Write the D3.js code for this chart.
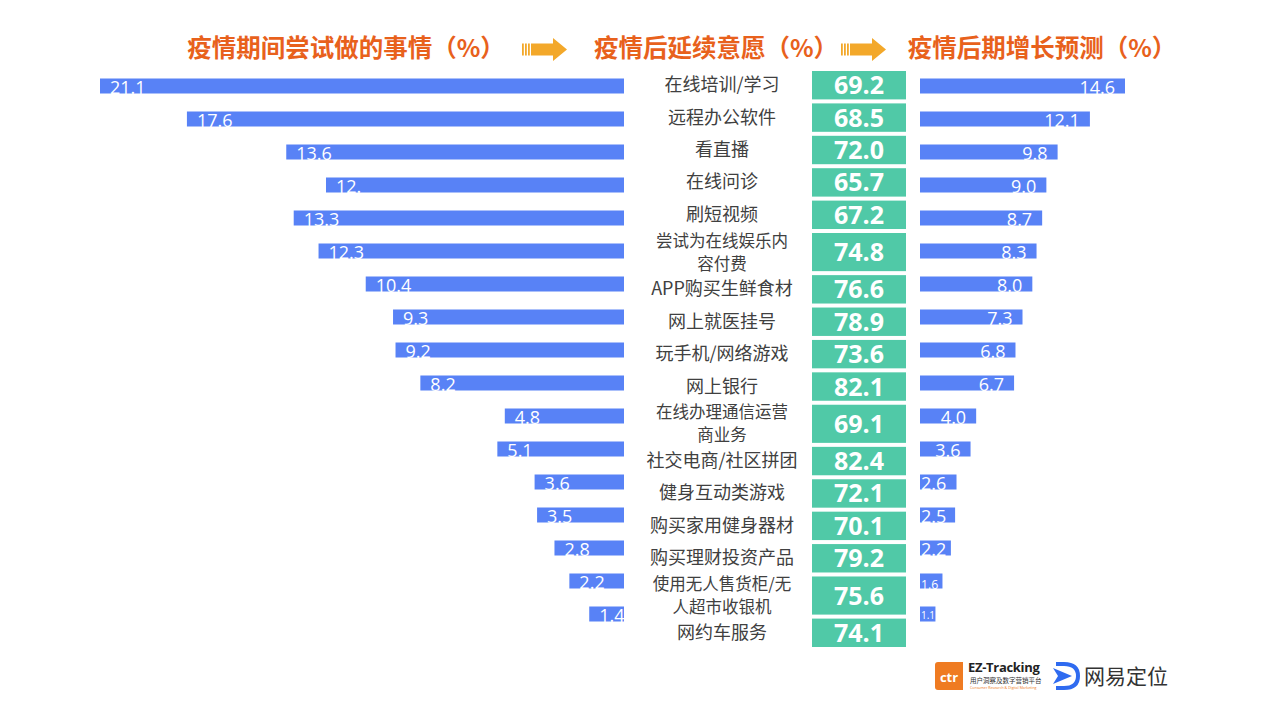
<!DOCTYPE html>
<html>
<head>
<meta charset="utf-8">
<script src="https://cdn.jsdelivr.net/npm/d3@7"></script>
<style>
  body { margin: 0; background: #fff; }
  svg { display: block; }
</style>
</head>
<body>
<div id="chart"></div>
<script>
// categories (line breaks as in the picture)
var categories = [
    "在线培训/学习", "远程办公软件", "看直播", "在线问诊", "刷短视频",
    "尝试为在线娱乐内\n容付费", "APP购买生鲜食材", "网上就医挂号", "玩手机/网络游戏", "网上银行",
    "在线办理通信运营\n商业务", "社交电商/社区拼团", "健身互动类游戏", "购买家用健身器材", "购买理财投资产品",
    "使用无人售货柜/无\n人超市收银机", "网约车服务"
];
// 疫情期间尝试做的事情 (%)
var tried = [21.1, 17.6, 13.6, 12.0, 13.3, 12.3, 10.4, 9.3, 9.2, 8.2, 4.8, 5.1, 3.6, 3.5, 2.8, 2.2, 1.4];
var triedLabels = ["21.1", "17.6", "13.6", "12.", "13.3", "12.3", "10.4", "9.3", "9.2", "8.2", "4.8", "5.1", "3.6", "3.5", "2.8", "2.2", "1.4"];
// 疫情后延续意愿 (%)
var keep = [69.2, 68.5, 72.0, 65.7, 67.2, 74.8, 76.6, 78.9, 73.6, 82.1, 69.1, 82.4, 72.1, 70.1, 79.2, 75.6, 74.1];
// 疫情后期增长预测 (%)
var growth = [14.6, 12.1, 9.8, 9.0, 8.7, 8.3, 8.0, 7.3, 6.8, 6.7, 4.0, 3.6, 2.6, 2.5, 2.2, 1.6, 1.1];

var headers = ["疫情期间尝试做的事情（%）", "疫情后延续意愿（%）", "疫情后期增长预测（%）"];

var W = 1280, H = 720;
var blue = "#5882f6", green = "#50c9a7", orange = "#e8611c", arrowCol = "#f3a82a";
var cjk = "'Noto Sans CJK SC', 'Noto Sans', sans-serif";
var num = "'Open Sans', 'Noto Sans', sans-serif";

var svg = d3.select("#chart").append("svg")
    .attr("width", W)
    .attr("height", H);

var rows = d3.range(categories.length);

var yRow = d3.scalePoint().domain(rows).range([86, 614]);
var xLeft = d3.scaleLinear().domain([0, 21.1]).range([624, 100]);
var xRight = d3.scaleLinear().domain([0, 14.6]).range([920, 1125]);
var barH = 15;

// middle column: rows with two text lines are taller
var weights = categories.map(function(c) { return c.indexOf("\n") >= 0 ? 1.3 : 1; });
var cum = [0];
weights.forEach(function(w, i) { cum.push(cum[i] + w); });
var yMid = d3.scaleLinear().domain([0, cum[cum.length - 1]]).range([69, 649]);
var boxGap = 4;

// headers
var head = svg.append("g")
    .attr("font-family", cjk)
    .attr("font-weight", 700)
    .attr("font-size", 24.5)
    .attr("fill", orange);
head.append("text").attr("x", 346).attr("y", 57).attr("text-anchor", "middle").text(headers[0]);
head.append("text").attr("x", 716).attr("y", 57).attr("text-anchor", "middle").text(headers[1]);
head.append("text").attr("x", 1042).attr("y", 57).attr("text-anchor", "middle").text(headers[2]);

function arrow(x0, cy) {
    var g = svg.append("g").attr("fill", arrowCol);
    [0, 3, 6].forEach(function(d) {
        g.append("rect").attr("x", x0 + d).attr("y", cy - 6).attr("width", 1.8).attr("height", 12);
    });
    g.append("path").attr("d",
        "M" + (x0 + 9) + "," + (cy - 6) +
        "H" + (x0 + 31) + "V" + (cy - 11.5) +
        "L" + (x0 + 45) + "," + cy +
        "L" + (x0 + 31) + "," + (cy + 11.5) +
        "V" + (cy + 6) + "H" + (x0 + 9) + "Z");
}
arrow(522, 49.5);
arrow(841, 49.5);

// left bars
var left = svg.append("g");
left.selectAll("rect").data(rows).enter().append("rect")
    .attr("x", function(i) { return xLeft(tried[i]); })
    .attr("y", function(i) { return yRow(i) - barH / 2; })
    .attr("width", function(i) { return xLeft(0) - xLeft(tried[i]); })
    .attr("height", barH)
    .attr("fill", blue);
left.selectAll("text").data(rows).enter().append("text")
    .attr("x", function(i) { return xLeft(tried[i]) + 10; })
    .attr("y", function(i) { return yRow(i) + 7.5; })
    .attr("font-family", num)
    .attr("font-size", 18)
    .attr("fill", "#fff")
    .text(function(i) { return triedLabels[i]; });

// middle labels and green boxes
var mid = svg.append("g");
rows.forEach(function(i) {
    var top = yMid(cum[i]) + boxGap / 2, bot = yMid(cum[i + 1]) - boxGap / 2;
    var cy = (top + bot) / 2;
    mid.append("rect")
        .attr("x", 812).attr("y", top)
        .attr("width", 94).attr("height", bot - top)
        .attr("fill", green);
    mid.append("text")
        .attr("x", 859).attr("y", cy + 9)
        .attr("text-anchor", "middle")
        .attr("font-family", num)
        .attr("font-weight", 700)
        .attr("font-size", 25)
        .attr("fill", "#fff")
        .text(keep[i].toFixed(1));
    var lines = categories[i].split("\n");
    var two = lines.length > 1;
    lines.forEach(function(l, k) {
        mid.append("text")
            .attr("text-anchor", "middle")
            .attr("font-family", cjk)
            .attr("font-size", two ? 16.5 : 18)
            .attr("fill", "#404040")
            .attr("x", 722)
            .attr("y", cy + 6 + (k - (lines.length - 1) / 2) * 23)
            .text(l);
    });
});

// right bars
var right = svg.append("g");
right.selectAll("rect").data(rows).enter().append("rect")
    .attr("x", xRight(0))
    .attr("y", function(i) { return yRow(i) - barH / 2; })
    .attr("width", function(i) { return xRight(growth[i]) - xRight(0); })
    .attr("height", barH)
    .attr("fill", blue);
right.selectAll("text").data(rows).enter().append("text")
    .each(function(i) {
        var w = xRight(growth[i]) - xRight(0);
        var fs = w >= 28 ? 18 : Math.max(10, w * 0.55);
        var t = d3.select(this)
            .attr("font-family", num)
            .attr("font-size", fs)
            .attr("fill", "#fff")
            .attr("y", yRow(i) + (fs > 12 ? 7.5 : 4.5))
            .text(growth[i].toFixed(1));
        if (w >= 45) t.attr("x", xRight(growth[i]) - 10).attr("text-anchor", "end");
        else t.attr("x", xRight(0) + 1).attr("text-anchor", "start");
    });

// logos
var logo = svg.append("g");
logo.append("path")
    .attr("d", "M938,662 H963 V690 H938 Q935,690 935,687 V665 Q935,662 938,662 Z")
    .attr("fill", "#ef7b22");
logo.append("text").attr("x", 949).attr("y", 682).attr("text-anchor", "middle")
    .attr("font-family", num).attr("font-weight", 700).attr("font-size", 13)
    .attr("fill", "#fff").text("ctr");
logo.append("text").attr("x", 968).attr("y", 672)
    .attr("font-family", num).attr("font-weight", 700).attr("font-size", 13)
    .attr("fill", "#222").attr("letter-spacing", -0.3).text("EZ-Tracking");
logo.append("text").attr("x", 970).attr("y", 682.5)
    .attr("font-family", cjk).attr("font-size", 6.5)
    .attr("fill", "#333").text("用户洞察及数字营销平台");
logo.append("text").attr("x", 970).attr("y", 688.5)
    .attr("font-family", num).attr("font-size", 3.6)
    .attr("fill", "#ef7b22").text("Consumer Research & Digital Marketing");
logo.append("path")
    .attr("d", "M1056,664 H1064 Q1078,664 1078,676 Q1078,688 1064,688 H1056")
    .attr("fill", "none").attr("stroke", "#2f6bf0").attr("stroke-width", 4);
logo.append("path")
    .attr("d", "M1053,668 L1072,676 L1053,684 L1058,676 Z")
    .attr("fill", "#2f6bf0");
logo.append("text").attr("x", 1084).attr("y", 684)
    .attr("font-family", cjk).attr("font-size", 21)
    .attr("fill", "#333").text("网易定位");
</script>
</body>
</html>
